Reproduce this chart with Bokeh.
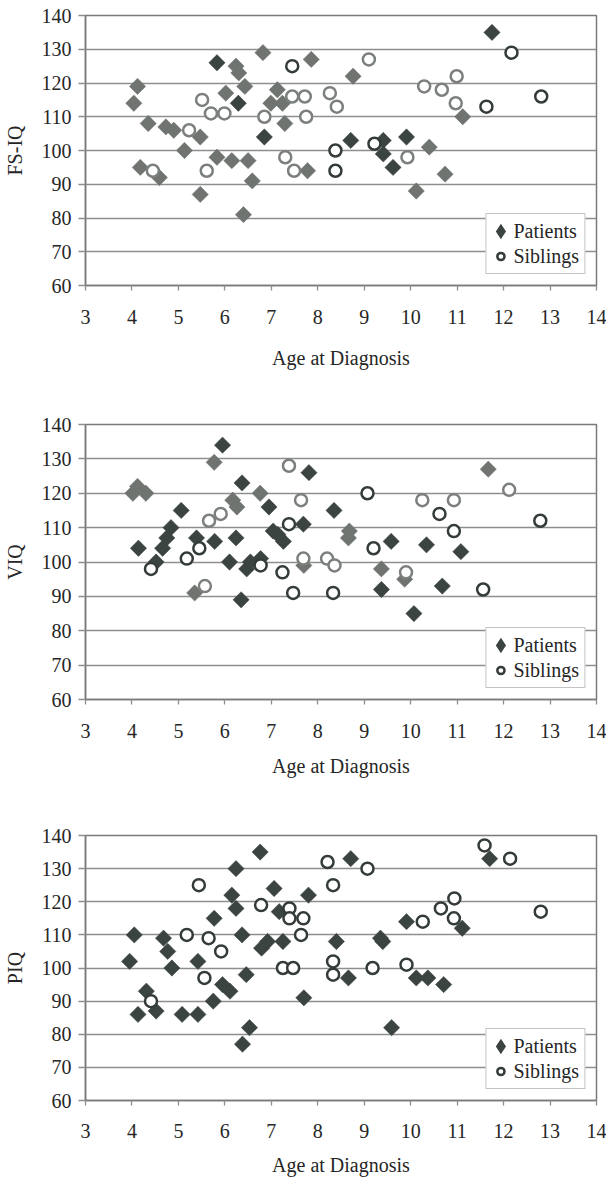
from bokeh.plotting import figure
from bokeh.layouts import column
from bokeh.models import Legend, LegendItem, FixedTicker, Range1d
from bokeh.embed import file_html
from bokeh.resources import INLINE
import numpy as np

# ---------------- data ----------------
x_ticks = [3, 4, 5, 6, 7, 8, 9, 10, 11, 12, 13, 14]
y_ticks = [60, 70, 80, 90, 100, 110, 120, 130, 140]
x_title = "Age at Diagnosis"

# FS-IQ
fsiq_pat_dark_x = [5.83, 6.29, 6.85, 8.71, 9.41, 9.41, 9.62, 9.91, 11.75]
fsiq_pat_dark_y = [126, 114, 104, 103, 103, 99, 95, 104, 135]
fsiq_pat_grey_x = [4.04, 4.12, 4.35, 4.18, 4.59, 4.73, 4.90, 5.13, 5.47, 5.47, 5.83, 6.02, 6.15,
                   6.24, 6.30, 6.43, 6.50, 6.59, 6.40, 6.82, 6.99, 7.13, 7.24, 7.29, 7.78, 7.86,
                   8.76, 10.40, 10.12, 10.74, 11.12]
fsiq_pat_grey_y = [114, 119, 108, 95, 92, 107, 106, 100, 104, 87, 98, 117, 97,
                   125, 123, 119, 97, 91, 81, 129, 114, 118, 114, 108, 94, 127,
                   122, 101, 88, 93, 110]
fsiq_sib_dark_x = [7.45, 8.38, 8.38, 9.22, 11.63, 12.17, 12.81]
fsiq_sib_dark_y = [125, 100, 94, 102, 113, 129, 116]
fsiq_sib_grey_x = [4.45, 5.23, 5.51, 5.61, 5.70, 5.99, 6.85, 7.30, 7.45, 7.49, 7.72, 7.75, 8.26,
                   8.41, 9.10, 9.93, 10.29, 10.67, 10.99, 10.97]
fsiq_sib_grey_y = [94, 106, 115, 94, 111, 111, 110, 98, 116, 94, 116, 110, 117,
                   113, 127, 98, 119, 118, 122, 114]

# VIQ
viq_pat_dark_x = [4.14, 4.52, 4.66, 4.75, 4.84, 5.06, 5.39, 5.78, 5.95, 6.10, 6.24, 6.35, 6.37,
                  6.47, 6.55, 6.77, 6.95, 7.04, 7.14, 7.26, 7.69, 7.81, 8.35, 9.37, 9.58, 10.07,
                  10.34, 10.68, 11.08]
viq_pat_dark_y = [104, 100, 104, 107, 110, 115, 107, 106, 134, 100, 107, 89, 123,
                  98, 100, 101, 116, 109, 108, 106, 111, 126, 115, 92, 106, 85,
                  105, 93, 103]
viq_pat_grey_x = [4.02, 4.12, 4.30, 5.35, 5.77, 6.17, 6.26, 6.76, 7.70, 8.68, 8.66, 9.37, 9.87, 11.67]
viq_pat_grey_y = [120, 122, 120, 91, 129, 118, 116, 120, 99, 109, 107, 98, 95, 127]
viq_sib_dark_x = [4.41, 5.18, 5.45, 6.77, 7.24, 7.38, 7.47, 8.33, 9.07, 9.20, 10.62, 10.93, 11.56, 12.79]
viq_sib_dark_y = [98, 101, 104, 99, 97, 111, 91, 91, 120, 104, 114, 109, 92, 112]
viq_sib_grey_x = [5.57, 5.66, 5.91, 7.38, 7.64, 7.69, 8.20, 8.36, 9.90, 10.25, 10.93, 12.12]
viq_sib_grey_y = [93, 112, 114, 128, 118, 101, 101, 99, 97, 118, 118, 121]

# PIQ
piq_pat_x = [3.95, 4.05, 4.13, 4.31, 4.52, 4.68, 4.77, 4.86, 5.08, 5.42, 5.42, 5.75, 5.77, 5.95,
             6.11, 6.15, 6.24, 6.24, 6.37, 6.38, 6.46, 6.53, 6.76, 6.79, 6.92, 7.06, 7.17, 7.25,
             7.70, 7.80, 8.40, 8.66, 8.71, 9.35, 9.40, 9.59, 9.91, 10.12, 10.37, 10.71, 11.11, 11.70]
piq_pat_y = [102, 110, 86, 93, 87, 109, 105, 100, 86, 86, 102, 90, 115, 95,
             93, 122, 118, 130, 110, 77, 98, 82, 135, 106, 108, 124, 117, 108,
             91, 122, 108, 97, 133, 109, 108, 82, 114, 97, 97, 95, 112, 133]
piq_sib_x = [4.41, 5.18, 5.44, 5.56, 5.65, 5.92, 6.78, 7.25, 7.39, 7.39, 7.47, 7.64, 7.69, 8.21,
             8.33, 8.33, 8.33, 9.07, 9.18, 9.91, 10.26, 10.65, 10.94, 10.93, 11.59, 12.14, 12.80]
piq_sib_y = [90, 110, 125, 97, 109, 105, 119, 100, 118, 115, 100, 110, 115, 132,
             125, 102, 98, 130, 100, 101, 114, 118, 121, 115, 137, 133, 117]

# ---------------- style ----------------
FONT = "Liberation Serif"
TEXT = "#262626"
DARK = "#3b4441"
GREY = "#6f7471"
SIB_DARK = "#343c39"
SIB_GREY = "#7c807d"
GRID = "#8e8e8e"
FRAME = "#7a7a7a"


def panel(ylabel, pat_dark, pat_grey, sib_dark, sib_grey, height, top, bottom,
          label_standoff, title_standoff):
    p = figure(width=606, height=height, x_range=Range1d(3, 14), y_range=Range1d(60, 140),
               output_backend="svg", toolbar_location=None,
               min_border_left=84, min_border_right=10, min_border_top=top, min_border_bottom=bottom)
    p.background_fill_color = "white"
    p.border_fill_color = "white"
    p.outline_line_color = FRAME
    p.outline_line_width = 1.5
    p.xgrid.visible = False
    p.ygrid.ticker = FixedTicker(ticks=y_ticks)
    p.ygrid.grid_line_color = GRID
    p.ygrid.grid_line_width = 1.3

    p.xaxis.ticker = FixedTicker(ticks=x_ticks)
    p.yaxis.ticker = FixedTicker(ticks=y_ticks)
    for ax in (p.xaxis, p.yaxis):
        ax.axis_line_color = FRAME
        ax.axis_line_width = 1.5
        ax.major_tick_line_color = GRID
        ax.major_tick_line_width = 1.3
        ax.major_tick_in = 0
        ax.minor_tick_line_color = None
        ax.major_label_text_font = FONT
        ax.major_label_text_font_size = "20px"
        ax.major_label_text_color = TEXT
        ax.axis_label_text_font = FONT
        ax.axis_label_text_font_size = "20px"
        ax.axis_label_text_font_style = "normal"
        ax.axis_label_text_color = TEXT
    p.xaxis.major_tick_out = 5
    p.xaxis.major_label_standoff = label_standoff
    p.xaxis.axis_label = x_title
    p.xaxis.axis_label_standoff = title_standoff
    p.yaxis.major_tick_out = 7
    p.yaxis.major_label_standoff = 7
    p.yaxis.axis_label = ylabel
    p.yaxis.axis_label_standoff = 13

    for (xs, ys), col in ((pat_grey, GREY), (pat_dark, DARK)):
        if xs:
            p.scatter(xs, ys, marker="square", angle=np.pi / 4, size=11.5,
                      fill_color=col, line_color=col, line_width=0.5)
    for (xs, ys), col in ((sib_grey, SIB_GREY), (sib_dark, SIB_DARK)):
        if xs:
            p.scatter(xs, ys, marker="circle", size=12, fill_color="white",
                      line_color=col, line_width=2.5)

    # hidden renderers that only carry the legend swatch style
    key_pat = p.scatter(pat_dark[0], pat_dark[1], marker="diamond", fill_color=DARK,
                        line_color=DARK, line_width=4.5, line_join="miter", visible=False)
    key_sib = p.scatter(sib_dark[0], sib_dark[1], marker="circle", fill_color="white",
                        line_color=SIB_DARK, line_width=2.5, visible=False)

    legend = Legend(items=[LegendItem(label="Patients", renderers=[key_pat]),
                           LegendItem(label="Siblings", renderers=[key_sib])],
                    location="bottom_right", click_policy="none")
    legend.label_text_font = FONT
    legend.label_text_font_size = "20px"
    legend.label_text_color = TEXT
    legend.border_line_color = "#8a8a8a"
    legend.border_line_width = 1
    legend.background_fill_color = "white"
    legend.background_fill_alpha = 1
    legend.padding = 5
    legend.spacing = 1
    legend.margin = 11
    legend.glyph_width = 18
    legend.glyph_height = 24
    legend.label_height = 24
    legend.label_standoff = 4
    p.add_layout(legend)
    return p


p1 = panel("FS-IQ", (fsiq_pat_dark_x, fsiq_pat_dark_y), (fsiq_pat_grey_x, fsiq_pat_grey_y),
           (fsiq_sib_dark_x, fsiq_sib_dark_y), (fsiq_sib_grey_x, fsiq_sib_grey_y),
           height=392, top=15, bottom=107, label_standoff=19, title_standoff=20)
p2 = panel("VIQ", (viq_pat_dark_x, viq_pat_dark_y), (viq_pat_grey_x, viq_pat_grey_y),
           (viq_sib_dark_x, viq_sib_dark_y), (viq_sib_grey_x, viq_sib_grey_y),
           height=390, top=32, bottom=83, label_standoff=19, title_standoff=14)
p3 = panel("PIQ", (piq_pat_x, piq_pat_y), ([], []),
           (piq_sib_x, piq_sib_y), ([], []),
           height=398, top=53, bottom=80, label_standoff=18, title_standoff=13)

layout = column(p1, p2, p3, spacing=0)
open("out.html", "w").write(file_html(layout, INLINE))
